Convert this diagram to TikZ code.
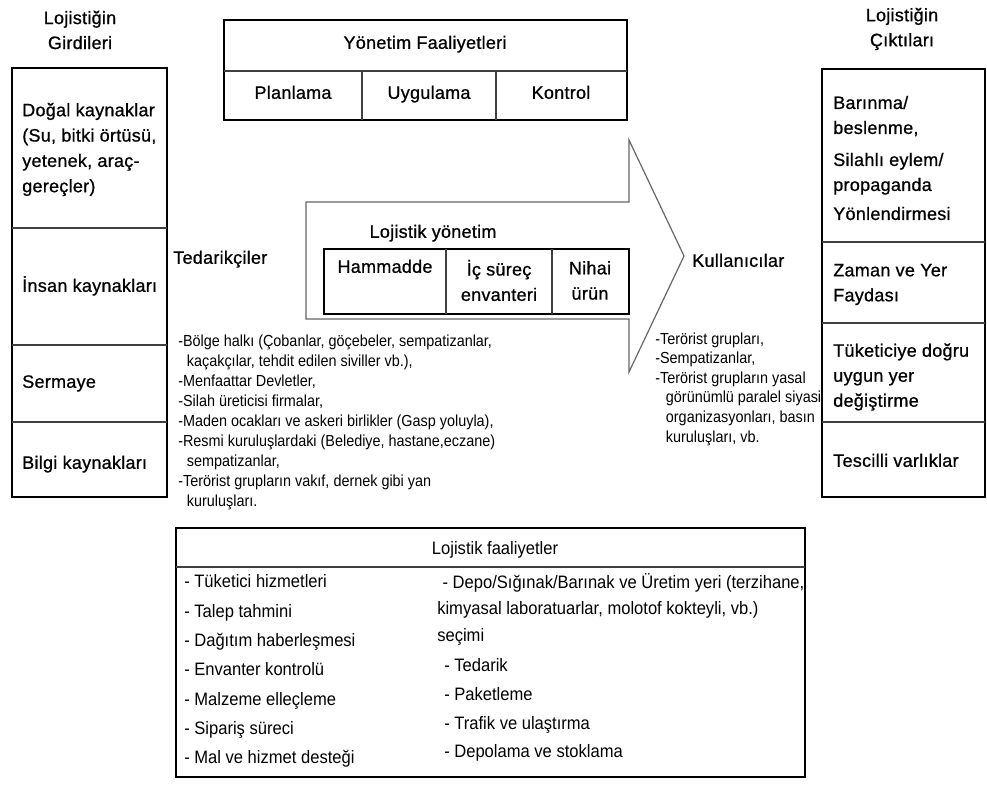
\documentclass[tikz,border=0pt]{standalone}
\usepackage{fontspec}
\setmainfont{Liberation Sans}
\newfontfamily\boxfont[LetterSpace=1.5, FakeBold=0.8]{Liberation Sans}
\newfontfamily\narrowfont[FakeStretch=0.9]{Liberation Sans}
\newfontfamily\itemfont[FakeStretch=0.92]{Liberation Sans}

\tikzset{
  thickbox/.style={draw=black, line width=2.2pt},
  thinline/.style={draw=black!75, line width=0.8pt},
  arrowline/.style={draw=black!60, line width=0.9pt},
  boxtxt/.style={font=\boxfont\fontsize{13.5}{19}\selectfont, inner sep=0pt, text height=0.72em, text depth=0pt},
  boxpara/.style={font=\boxfont\fontsize{13.5}{19}\selectfont, inner sep=0pt, align=left, anchor=west},
  listtxt/.style={font=\narrowfont\fontsize{12}{15}\selectfont, inner sep=0pt, align=left, anchor=west},
  itemtxt/.style={font=\itemfont\fontsize{13.5}{22}\selectfont, inner sep=0pt, align=left, anchor=west}
}

\begin{document}
\begin{tikzpicture}[x=0.75pt, y=-0.75pt]
  \useasboundingbox (0,0) rectangle (987,785);
  % inputs of logistics
  \node[boxtxt, align=center, text height=, text depth=, font=\boxfont\fontsize{13.5}{18.75}\selectfont] (girdititle) at (80,30) {Lojistiğin\\Girdileri};
  \draw[thickbox] (12,68) rectangle (167,497);
  \draw[thinline] (12,228) -- (167,228) (12,345) -- (167,345) (12,422) -- (167,422);
  \node[boxpara] (dogal) at (22,149.5) {Doğal kaynaklar\\(Su, bitki örtüsü,\\yetenek, araç-\\gereçler)};
  \node[boxtxt, anchor=west] (insan) at (22,287) {İnsan kaynakları};
  \node[boxtxt, anchor=west] (sermaye) at (22,383) {Sermaye};
  \node[boxtxt, anchor=west] (bilgi) at (22,464) {Bilgi kaynakları};
  % management activities
  \draw[thickbox] (224,20) rectangle (627,120);
  \draw[thinline] (224,71) -- (627,71) (362,71) -- (362,120) (496,71) -- (496,120);
  \node[boxtxt] (yonetim) at (425,44) {Yönetim Faaliyetleri};
  \node[boxtxt] (planlama) at (293,94) {Planlama};
  \node[boxtxt] (uygulama) at (429,94) {Uygulama};
  \node[boxtxt] (kontrol) at (561,94) {Kontrol};
  % big arrow with logistics management
  \draw[arrowline] (306,202) -- (629,202) -- (629,140) -- (684,256) -- (629,372)
    -- (629,319) -- (306,319) -- cycle;
  \node[boxtxt] (lojyonetim) at (433,233) {Lojistik yönetim};
  \draw[thickbox] (324,249) rectangle (629,314);
  \draw[thinline] (446,249) -- (446,314) (552,249) -- (552,314);
  \node[boxtxt] (hammadde) at (385,268) {Hammadde};
  \node[boxpara, anchor=center, align=center] (icsurec) at (499,280.5) {İç süreç\\envanteri};
  \node[boxpara, anchor=center, align=center] (nihai) at (590,280.5) {Nihai\\ürün};
  % suppliers
  \node[boxtxt, anchor=west] (tedarik) at (173,259) {Tedarikçiler};
  \node[listtxt] (tedariklist) at (178,422.5) {-Bölge halkı (Çobanlar, göçebeler, sempatizanlar,\\
    \hspace*{6.5pt}kaçakçılar, tehdit edilen siviller vb.),\\
    -Menfaattar Devletler,\\
    -Silah üreticisi firmalar,\\
    -Maden ocakları ve askeri birlikler (Gasp yoluyla),\\
    -Resmi kuruluşlardaki (Belediye, hastane,eczane)\\
    \hspace*{6.5pt}sempatizanlar,\\
    -Terörist grupların vakıf, dernek gibi yan\\
    \hspace*{6.5pt}kuruluşları.};
  % users
  \node[boxtxt, anchor=west] (kullanici) at (692,262) {Kullanıcılar};
  \node[listtxt, font=\narrowfont\fontsize{12}{14.7}\selectfont] (kullanicilist) at (655,389) {-Terörist grupları,\\
    -Sempatizanlar,\\
    -Terörist grupların yasal\\
    \hspace*{8pt}görünümlü paralel siyasi\\
    \hspace*{8pt}organizasyonları, basın\\
    \hspace*{8pt}kuruluşları, vb.};
  % outputs of logistics
  \node[boxtxt, align=center, text height=, text depth=, font=\boxfont\fontsize{13.5}{18.75}\selectfont] (ciktititle) at (902,29) {Lojistiğin\\Çıktıları};
  \draw[thickbox] (822,69) rectangle (985,497);
  \draw[thinline] (822,242) -- (985,242) (822,323) -- (985,323) (822,422) -- (985,422);
  \node[boxpara, font=\boxfont\fontsize{13.5}{18.75}\selectfont] (barinma) at (833,158) {Barınma/\\beslenme,\\[5.25pt]Silahlı eylem/\\propaganda\\[3pt]Yönlendirmesi};
  \node[boxpara, font=\boxfont\fontsize{13.5}{18.75}\selectfont] (zaman) at (833,284.5) {Zaman ve Yer\\Faydası};
  \node[boxpara, font=\boxfont\fontsize{13.5}{18.75}\selectfont] (tuketici) at (833,377) {Tüketiciye doğru\\uygun yer\\değiştirme};
  \node[boxtxt, anchor=west] (tescil) at (833,462) {Tescilli varlıklar};
  % logistics activities
  \draw[thickbox] (176,528) rectangle (805,777);
  \draw[thinline] (176,567) -- (805,567);
  \node[boxtxt, font=\itemfont\fontsize{13.5}{15}\selectfont] (faaliyet) at (495,550) {Lojistik faaliyetler};
  \node[itemtxt] (solliste) at (184,671) {- Tüketici hizmetleri\\- Talep tahmini\\- Dağıtım haberleşmesi\\- Envanter kontrolü\\- Malzeme elleçleme\\- Sipariş süreci\\- Mal ve hizmet desteği};
  \node[itemtxt, font=\itemfont\fontsize{13.5}{19.9}\selectfont] (depo) at (437,609) {\hspace*{4pt}- Depo/Sığınak/Barınak ve Üretim yeri (terzihane,\\kimyasal laboratuarlar, molotof kokteyli, vb.)\\seçimi};
  \node[itemtxt, font=\itemfont\fontsize{13.5}{21.5}\selectfont] (sagliste) at (444,710) {- Tedarik\\- Paketleme\\- Trafik ve ulaştırma\\- Depolama ve stoklama};
\end{tikzpicture}
\end{document}
